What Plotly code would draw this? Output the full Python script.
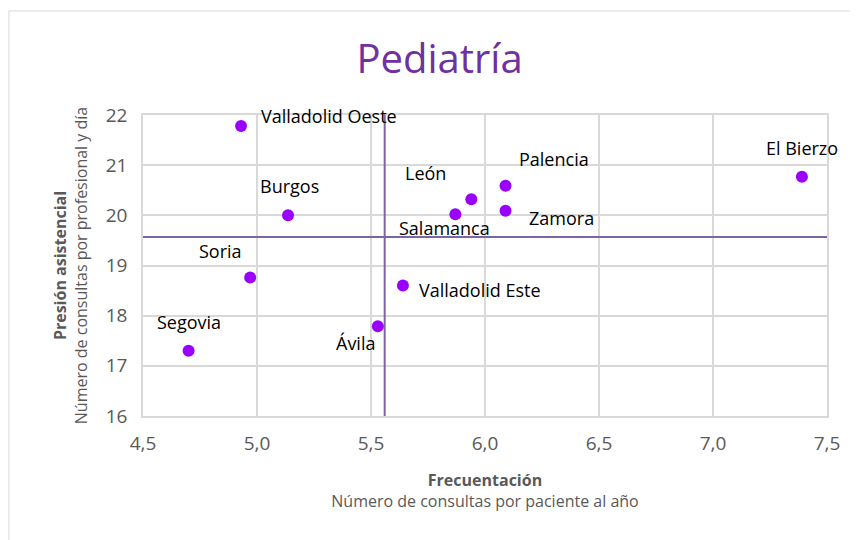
import plotly.graph_objects as go

areas = ["Valladolid Oeste", "Burgos", "León", "Salamanca", "Palencia", "Zamora",
         "El Bierzo", "Soria", "Valladolid Este", "Ávila", "Segovia"]
frecuentacion = [4.93, 5.136, 5.94, 5.87, 6.09, 6.09, 7.39, 4.97, 5.64, 5.53, 4.70]
presion = [21.78, 20.0, 20.32, 20.02, 20.59, 20.09, 20.77, 18.76, 18.60, 17.79, 17.30]
mean_x = 5.56
mean_y = 19.57
x_ticks = [4.5, 5.0, 5.5, 6.0, 6.5, 7.0, 7.5]
y_ticks = [16, 17, 18, 19, 20, 21, 22]

# label placement (pixel offsets / anchors) – styling only
label_style = {
    "Valladolid Oeste": ("left", 18, 10),
    "Burgos": ("center", 1, 29),
    "León": ("center", -46, 26),
    "Salamanca": ("center", -11, -14),
    "Palencia": ("center", 48, 27),
    "Zamora": ("left", 21, -7),
    "El Bierzo": ("center", 0, 29),
    "Soria": ("center", -30, 27),
    "Valladolid Este": ("left", 14, -4),
    "Ávila": ("center", -22, -17),
    "Segovia": ("center", 0, 29),
}

ref_col = "#8064a2"
grid_col = "#d9d9d9"
font_fam = "Open Sans, Noto Sans, sans-serif"

fig = go.Figure()
fig.add_trace(go.Scatter(x=[mean_x, mean_x], y=[y_ticks[0], y_ticks[-1] + 0.06], mode="lines",
                         line=dict(color=ref_col, width=2), hoverinfo="skip", showlegend=False,
                         cliponaxis=False))
fig.add_trace(go.Scatter(x=[x_ticks[0] - 0.01, x_ticks[-1] + 0.01], y=[mean_y, mean_y], mode="lines",
                         line=dict(color=ref_col, width=2), hoverinfo="skip", showlegend=False,
                         cliponaxis=False))
fig.add_trace(go.Scatter(x=frecuentacion, y=presion, mode="markers",
                         marker=dict(color="#9900ff", size=12), showlegend=False,
                         text=areas, cliponaxis=False))

for name, xv, yv in zip(areas, frecuentacion, presion):
    anchor, dx, dy = label_style[name]
    fig.add_annotation(x=xv, y=yv, text=name, showarrow=False, xanchor=anchor, yanchor="middle",
                       xshift=dx, yshift=dy, font=dict(family=font_fam, size=18, color="#000000"))

# outer chart border
fig.add_shape(type="rect", xref="paper", yref="paper", x0=-0.196, x1=1.06, y0=-0.45, y1=1.3455,
              line=dict(color="#d9d9d9", width=1))

fig.update_layout(
    width=858, height=540,
    margin=dict(l=135, r=39, t=107, b=132),
    paper_bgcolor="white", plot_bgcolor="white",
    separators=",.",
    title=dict(text="Pediatría", x=0.503, xanchor="center", y=0.905, yanchor="middle",
               xref="container",
               font=dict(family=font_fam, size=40, color="#7030a0")),
    font=dict(family=font_fam, color="#595959"),
    xaxis=dict(range=[4.5, 7.5], tickvals=x_ticks, tickformat=".1f",
               showgrid=True, gridcolor=grid_col, gridwidth=1.5, zeroline=False,
               showline=True, linecolor=grid_col, linewidth=1.5, mirror=True,
               ticks="outside", ticklen=9, tickcolor="rgba(0,0,0,0)",
               tickfont=dict(size=19, color="#595959"),
               title=dict(text="<b>Frecuentación</b><br>Número de consultas por paciente al año",
                          font=dict(size=16, color="#595959"), standoff=20)),
    yaxis=dict(range=[16, 22], tickvals=y_ticks,
               showgrid=True, gridcolor=grid_col, gridwidth=1.5, zeroline=False,
               showline=True, linecolor=grid_col, linewidth=1.5, mirror=True,
               ticks="outside", ticklen=10, tickcolor="rgba(0,0,0,0)",
               tickfont=dict(size=19, color="#595959"),
               title=dict(text="<b>Presión asistencial</b><br>Número de consultas por profesional y día",
                          font=dict(size=16, color="#595959"), standoff=14)),
)

fig.write_html("out.html")
